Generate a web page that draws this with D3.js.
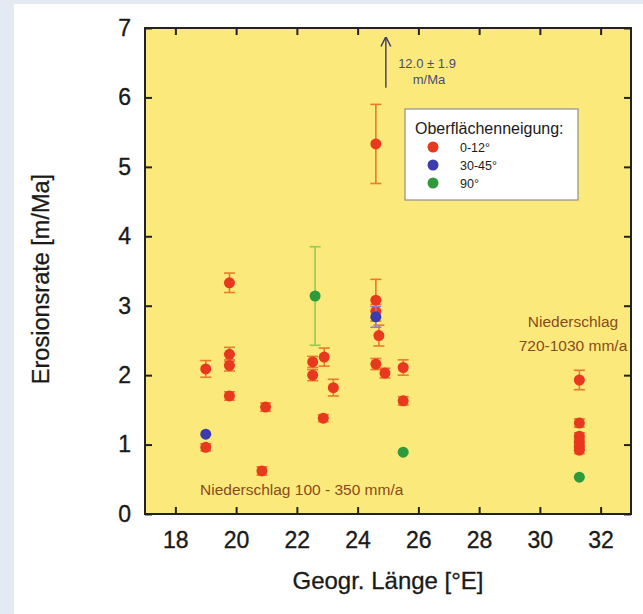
<!DOCTYPE html>
<html>
<head>
<meta charset="utf-8">
<script src="https://cdn.jsdelivr.net/npm/d3@7"></script>
<style>
  body { margin: 0; background: #e3eaf4; }
  svg { display: block; font-family: "Liberation Sans", Arial, sans-serif; }
</style>
</head>
<body>
<div id="chart"></div>
<script>
// Red: Oberflächenneigung 0-12° (longitude, rate, error)
var lonRed = [19.0, 19.0, 19.78, 19.78, 19.78, 19.78, 20.97, 20.85, 22.52, 22.52, 22.9, 23.2, 22.87,
  24.6, 24.6, 24.6, 24.7, 24.6, 24.9, 25.5, 25.5, 31.3, 31.3, 31.3, 31.3, 31.3, 31.3];
var rateRed = [2.09, 0.96, 3.33, 2.30, 2.14, 1.70, 1.54, 0.62, 2.19, 2.00, 2.26, 1.82, 1.38,
  5.33, 3.08, 2.92, 2.57, 2.16, 2.03, 2.11, 1.63, 1.93, 1.31, 1.12, 1.04, 0.97, 0.92];
var errRed = [0.12, 0.05, 0.14, 0.10, 0.08, 0.06, 0.06, 0.06, 0.08, 0.08, 0.13, 0.12, 0.05,
  0.57, 0.30, 0.10, 0.15, 0.08, 0.07, 0.11, 0.06, 0.14, 0.06, 0.05, 0.05, 0.05, 0.05];

// Blue: 30-45°
var lonBlue = [19.0, 24.6];
var rateBlue = [1.15, 2.84];
var errBlue = [0, 0.15];

// Green: 90°
var lonGreen = [22.6, 25.5, 31.3];
var rateGreen = [3.14, 0.89, 0.53];
var errGreen = [0.71, 0, 0];

var xTicks = [18, 20, 22, 24, 26, 28, 30, 32];
var yTicks = [0, 1, 2, 3, 4, 5, 6, 7];

var legendLabels = ['0-12°', '30-45°', '90°'];
var legendColors = ['#e8381e', '#3c3bb0', '#2f9a3c'];

// off-scale sample: 12.0 ± 1.9 m/Ma shown as an arrow
var arrowLon = 24.93, arrowFrom = 6.14, arrowTo = 6.86;

var W = 643, H = 614;
var svg = d3.select('#chart').append('svg')
    .attr('width', W)
    .attr('height', H);

svg.append('rect')
    .attr('x', 14).attr('y', 4)
    .attr('width', W - 14).attr('height', H - 4)
    .attr('fill', '#ffffff');

var x = d3.scaleLinear().domain([17, 33]).range([145, 631]);
var y = d3.scaleLinear().domain([0, 7]).range([514, 28]);

svg.append('rect')
    .attr('x', x(17)).attr('y', y(7))
    .attr('width', x(33) - x(17)).attr('height', y(0) - y(7))
    .attr('fill', '#fbe97b');

function styleAxis(g, showText) {
  g.select('.domain').remove();
  g.selectAll('.tick line').attr('stroke', '#222').attr('stroke-width', 2);
  g.selectAll('.tick text')
      .attr('fill', '#1a1a1a')
      .attr('stroke', '#1a1a1a')
      .attr('stroke-width', 0.35)
      .style('font-size', '23px')
      .style('display', showText ? null : 'none');
}

svg.append('g')
    .attr('transform', 'translate(0,' + y(0) + ')')
    .call(d3.axisBottom(x).tickValues(xTicks).tickSize(-7).tickPadding(18))
    .call(styleAxis, true);
svg.append('g')
    .attr('transform', 'translate(0,' + y(7) + ')')
    .call(d3.axisTop(x).tickValues(xTicks).tickSize(-7))
    .call(styleAxis, false);
svg.append('g')
    .attr('transform', 'translate(' + x(17) + ',0)')
    .call(d3.axisLeft(y).tickValues(yTicks).tickFormat(d3.format('d')).tickSize(-7).tickPadding(14))
    .call(styleAxis, true);
svg.append('g')
    .attr('transform', 'translate(' + x(33) + ',0)')
    .call(d3.axisRight(y).tickValues(yTicks).tickSize(-7))
    .call(styleAxis, false);

// frame
svg.append('rect')
    .attr('x', x(17)).attr('y', y(7))
    .attr('width', x(33) - x(17)).attr('height', y(0) - y(7))
    .attr('fill', 'none')
    .attr('stroke', '#222')
    .attr('stroke-width', 2);

// axis titles
svg.append('text')
    .attr('x', 388).attr('y', 589)
    .attr('text-anchor', 'middle')
    .attr('fill', '#1a1a1a')
    .attr('stroke', '#1a1a1a').attr('stroke-width', 0.3)
    .style('font-size', '24px')
    .text('Geogr. Länge [°E]');
svg.append('text')
    .attr('transform', 'translate(49,' + 279 + ') rotate(-90)')
    .attr('text-anchor', 'middle')
    .attr('fill', '#1a1a1a')
    .attr('stroke', '#1a1a1a').attr('stroke-width', 0.3)
    .style('font-size', '23.5px')
    .text('Erosionsrate [m/Ma]');

function zipSeries(lons, rates, errs) {
  return lons.map(function(l, i) { return {lon: l, rate: rates[i], err: errs[i]}; });
}

function drawSeries(data, fill, barColor) {
  var g = svg.append('g');
  var withErr = data.filter(function(d) { return d.err > 0; });
  g.selectAll('line.bar').data(withErr).enter().append('line')
      .attr('class', 'bar')
      .attr('x1', function(d) { return x(d.lon); })
      .attr('x2', function(d) { return x(d.lon); })
      .attr('y1', function(d) { return y(d.rate + d.err); })
      .attr('y2', function(d) { return y(d.rate - d.err); })
      .attr('stroke', barColor).attr('stroke-width', 1.6);
  ['top', 'bot'].forEach(function(k) {
    g.selectAll('line.' + k).data(withErr).enter().append('line')
        .attr('class', k)
        .attr('x1', function(d) { return x(d.lon) - 5.5; })
        .attr('x2', function(d) { return x(d.lon) + 5.5; })
        .attr('y1', function(d) { return y(k === 'top' ? d.rate + d.err : d.rate - d.err); })
        .attr('y2', function(d) { return y(k === 'top' ? d.rate + d.err : d.rate - d.err); })
        .attr('stroke', barColor).attr('stroke-width', 1.6);
  });
  g.selectAll('circle').data(data).enter().append('circle')
      .attr('cx', function(d) { return x(d.lon); })
      .attr('cy', function(d) { return y(d.rate); })
      .attr('r', 5.5)
      .attr('fill', fill);
}

drawSeries(zipSeries(lonRed, rateRed, errRed), legendColors[0], '#ea7a2c');
drawSeries(zipSeries(lonBlue, rateBlue, errBlue), legendColors[1], '#8d7fcf');
drawSeries(zipSeries(lonGreen, rateGreen, errGreen), legendColors[2], '#93c954');

// arrow for the off-scale value
svg.append('defs').append('marker')
    .attr('id', 'head')
    .attr('viewBox', '0 0 10 10')
    .attr('refX', 9).attr('refY', 5)
    .attr('markerWidth', 7).attr('markerHeight', 9)
    .attr('orient', 'auto')
  .append('path')
    .attr('d', 'M0,0 L10,5 L0,10')
    .attr('fill', 'none')
    .attr('stroke', '#3d3a66')
    .attr('stroke-width', 1.5);
svg.append('line')
    .attr('x1', x(arrowLon)).attr('x2', x(arrowLon))
    .attr('y1', y(arrowFrom)).attr('y2', y(arrowTo))
    .attr('stroke', '#3d3a66').attr('stroke-width', 1.4)
    .attr('marker-end', 'url(#head)');
svg.append('text')
    .attr('x', 427).attr('y', 68)
    .attr('text-anchor', 'middle')
    .attr('fill', '#4a4c78')
    .style('font-size', '13px')
    .text('12.0 ± 1.9');
svg.append('text')
    .attr('x', 429).attr('y', 84)
    .attr('text-anchor', 'middle')
    .attr('fill', '#4a4c78')
    .style('font-size', '13px')
    .text('m/Ma');

// precipitation notes
var brown = '#8a4a1d';
svg.append('text')
    .attr('x', 200).attr('y', 495)
    .attr('fill', brown)
    .style('font-size', '15.5px')
    .text('Niederschlag 100 - 350 mm/a');
svg.append('text')
    .attr('x', 573).attr('y', 327)
    .attr('text-anchor', 'middle')
    .attr('fill', brown)
    .style('font-size', '15.5px')
    .text('Niederschlag');
svg.append('text')
    .attr('x', 573).attr('y', 351)
    .attr('text-anchor', 'middle')
    .attr('fill', brown)
    .style('font-size', '15.5px')
    .text('720-1030 mm/a');

// legend
var legend = svg.append('g').attr('transform', 'translate(405,109)');
legend.append('rect')
    .attr('width', 173).attr('height', 91)
    .attr('fill', '#ffffff')
    .attr('stroke', '#8f8f8f')
    .attr('stroke-width', 1.2);
legend.append('text')
    .attr('x', 10).attr('y', 25)
    .attr('fill', '#1a1a1a')
    .style('font-size', '16px')
    .text('Oberflächenneigung:');
var items = legend.selectAll('g.item').data(legendLabels).enter().append('g')
    .attr('class', 'item')
    .attr('transform', function(d, i) { return 'translate(0,' + (38 + i * 18) + ')'; });
items.append('circle')
    .attr('cx', 28).attr('r', 5.5)
    .attr('fill', function(d, i) { return legendColors[i]; });
items.append('text')
    .attr('x', 55).attr('dy', '0.36em')
    .attr('fill', '#1a1a1a')
    .style('font-size', '12.5px')
    .text(function(d) { return d; });
</script>
</body>
</html>
